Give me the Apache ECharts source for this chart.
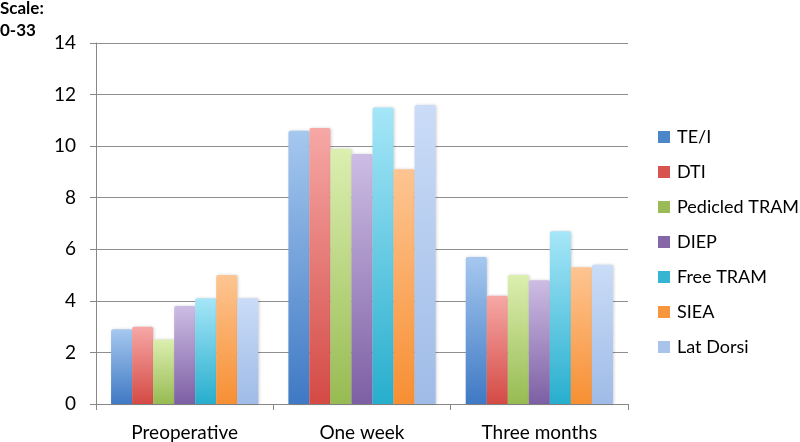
<!DOCTYPE html>
<html><head><meta charset="utf-8">
<script src="https://cdn.jsdelivr.net/npm/echarts@6/dist/echarts.min.js"></script>
<style>html,body{margin:0;padding:0;background:#fff}#c{width:800px;height:442px}</style>
</head><body><div id="c"></div>
<script>
const categories = ['Preoperative', 'One week', 'Three months'];
const seriesNames = ['TE/I', 'DTI', 'Pedicled TRAM', 'DIEP', 'Free TRAM', 'SIEA', 'Lat Dorsi'];
const teI = [2.9, 10.6, 5.7];
const dti = [3.0, 10.7, 4.2];
const pedicledTram = [2.5, 9.9, 5.0];
const diep = [3.8, 9.7, 4.8];
const freeTram = [4.1, 11.5, 6.7];
const siea = [5.0, 9.1, 5.3];
const latDorsi = [4.1, 11.6, 5.4];
const yTicks = [0, 2, 4, 6, 8, 10, 12, 14];

const values = [teI, dti, pedicledTram, diep, freeTram, siea, latDorsi];
const colorPairs = [
  ['#a6c8ef', '#3f79c4'],
  ['#f6a8a6', '#d44a45'],
  ['#dcefb0', '#97bb52'],
  ['#cdbde4', '#7d5fa4'],
  ['#a6e6f8', '#27aecd'],
  ['#fdc592', '#f78f33'],
  ['#cadcf7', '#9fbbe7']
];
const solid = ['#4a86c8', '#d9534f', '#9bbb59', '#8567a8', '#35b5d2', '#f7963f', '#a9c3ea'];
const FONT = 'Lato, "Open Sans", sans-serif';

const chart = echarts.init(document.getElementById('c'), null, {renderer: 'canvas'});
chart.setOption({
  animation: false,
  textStyle: {fontFamily: FONT},
  graphic: [
    {type: 'text', left: 0, top: 0, style: {text: 'Scale:', font: 'bold 17px Lato, sans-serif', fill: '#000'}},
    {type: 'text', left: 0, top: 22, style: {text: '0-33', font: 'bold 17px Lato, sans-serif', fill: '#000'}}
  ],
  legend: {
    orient: 'vertical', left: 653, top: 123,
    itemWidth: 12, itemHeight: 12, itemGap: 17,
    icon: 'rect',
    textStyle: {fontSize: 18, lineHeight: 18, color: '#000', fontFamily: FONT, padding: [0, 0, 0, 2]},
    data: seriesNames.map((n, i) => ({name: n, itemStyle: {color: solid[i]}}))
  },
  grid: {left: 96, right: 172, top: 43, bottom: 38, containLabel: false},
  xAxis: {
    type: 'category', data: categories,
    axisLine: {lineStyle: {color: '#888', width: 1}},
    axisTick: {show: true, length: 6, lineStyle: {color: '#888'}},
    axisLabel: {fontSize: 19, color: '#000', margin: 19, fontFamily: FONT}
  },
  yAxis: {
    type: 'value', min: 0, max: 14, interval: 2,
    axisLine: {show: true, lineStyle: {color: '#888'}},
    axisTick: {show: true, length: 6, lineStyle: {color: '#888'}},
    splitLine: {lineStyle: {color: '#8f8f8f', width: 1}},
    axisLabel: {fontSize: 19, color: '#000', margin: 20, fontFamily: FONT,
      formatter: v => yTicks.includes(v) ? String(v) : ''}
  },
  series: seriesNames.map((n, i) => ({
    name: n, type: 'bar', data: values[i],
    barGap: '0%', barCategoryGap: '17%',
    itemStyle: {
      borderRadius: [2, 2, 0, 0],
      color: new echarts.graphic.LinearGradient(0, 0, 0, 1, [
        {offset: 0, color: colorPairs[i][0]},
        {offset: 1, color: colorPairs[i][1]}
      ]),
      shadowColor: 'rgba(0,0,0,0.18)', shadowBlur: 3, shadowOffsetX: 1, shadowOffsetY: 0
    }
  }))
});
</script></body></html>
